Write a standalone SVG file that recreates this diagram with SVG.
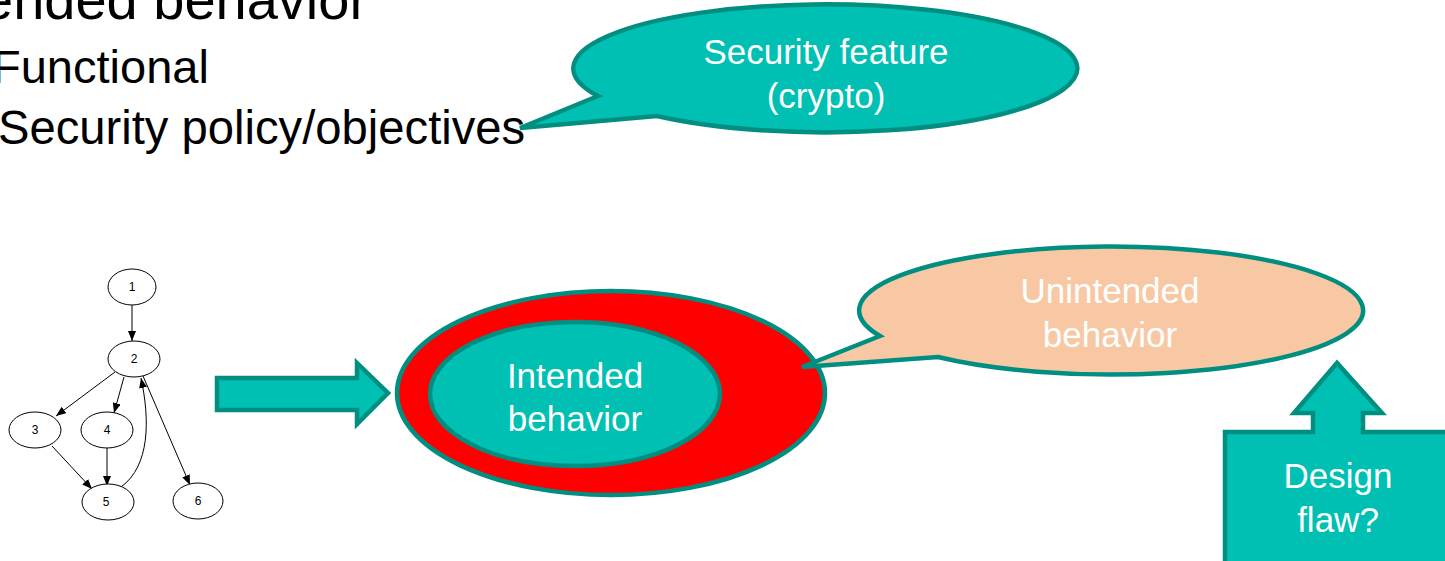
<svg xmlns="http://www.w3.org/2000/svg" width="1445" height="561" viewBox="0 0 1445 561">
  <style>
    .bullet { font-family: "Liberation Sans", Arial, sans-serif; fill: #000; }
    .lbl { font-family: "Liberation Sans", Arial, sans-serif; font-size: 35px; fill: #fff; text-anchor: middle; }
    .teal { fill: #00bfb3; stroke: #008e80; stroke-width: 4.5; stroke-linejoin: miter; }
    .peach { fill: #f8c8a5; stroke: #008e80; stroke-width: 4.5; }
    .red { fill: #ff0000; stroke: #008e80; stroke-width: 4.5; }
    .gnode { fill: #fff; stroke: #000; stroke-width: 1; }
    .gtxt { font-family: "Liberation Sans", Arial, sans-serif; font-size: 12px; fill: #000; text-anchor: middle; }
    .gedge { fill: none; stroke: #000; stroke-width: 1; marker-end: url(#ah); }
  </style>
  <defs>
    <marker id="ah" viewBox="0 0 10 8" refX="10" refY="4" markerWidth="10" markerHeight="8" markerUnits="userSpaceOnUse" orient="auto">
      <path d="M0,0 L10,4 L0,8 Z" fill="#000"/>
    </marker>
  </defs>
  <rect width="1445" height="561" fill="#fff"/>

  <!-- slide bullet text -->
  <g id="bullets">
    <text class="bullet" x="-18" y="19" font-size="56">ended behavior</text>
    <text class="bullet" x="-8" y="83" font-size="47">Functional</text>
    <text class="bullet" x="-2" y="144" font-size="47.2">Security policy/objectives</text>
  </g>

  <!-- callout: security feature -->
  <g id="security-feature">
    <path class="teal" d="M598,96 L520,128 L657,116 A252,64 0 1 0 598,96 Z"/>
    <text class="lbl" x="826" y="64">Security feature</text>
    <text class="lbl" x="826" y="108">(crypto)</text>
  </g>

  <!-- control flow graph -->
  <g id="graph">
    <g id="connectors">
      <line class="gedge" x1="132" y1="305" x2="132" y2="341"/>
      <line class="gedge" x1="115" y1="372" x2="56" y2="416"/>
      <line class="gedge" x1="124" y1="377" x2="114" y2="413"/>
      <line class="gedge" x1="143" y1="376" x2="190" y2="485"/>
      <line class="gedge" x1="52" y1="446" x2="92" y2="489"/>
      <line class="gedge" x1="107" y1="448" x2="107" y2="486"/>
      <path class="gedge" d="M121,487 C150,466 150,420 141,378"/>
    </g>
    <g id="n1"><ellipse class="gnode" cx="132" cy="287" rx="24" ry="18"/><text class="gtxt" x="132" y="291">1</text></g>
    <g id="n2"><ellipse class="gnode" cx="134" cy="359" rx="26" ry="18"/><text class="gtxt" x="134" y="363">2</text></g>
    <g id="n3"><ellipse class="gnode" cx="35" cy="430" rx="26" ry="18"/><text class="gtxt" x="35" y="434">3</text></g>
    <g id="n4"><ellipse class="gnode" cx="107" cy="430" rx="26" ry="18"/><text class="gtxt" x="107" y="434">4</text></g>
    <g id="n5"><ellipse class="gnode" cx="108" cy="502" rx="26" ry="18"/><text class="gtxt" x="106" y="506">5</text></g>
    <g id="n6"><ellipse class="gnode" cx="198" cy="501" rx="25" ry="18"/><text class="gtxt" x="198" y="505">6</text></g>
  </g>

  <!-- block arrow -->
  <g id="block-arrow">
    <path class="teal" d="M217,378 L357,378 L357,363 L388,393 L357,424 L357,410 L217,410 Z"/>
  </g>

  <!-- behaviour sets -->
  <g id="unintended-set">
    <ellipse class="red" cx="611" cy="393" rx="214" ry="102"/>
  </g>
  <g id="intended-behavior">
    <ellipse class="teal" cx="575" cy="394" rx="145" ry="72"/>
    <text class="lbl" x="575" y="388">Intended</text>
    <text class="lbl" x="575" y="431">behavior</text>
  </g>

  <!-- callout: unintended behaviour -->
  <g id="unintended-behavior">
    <path class="peach" d="M880,336 L802,367 L938,357 A252,64 0 1 0 880,336 Z"/>
    <text class="lbl" x="1110" y="303">Unintended</text>
    <text class="lbl" x="1110" y="347">behavior</text>
  </g>

  <!-- design flaw box with up arrow -->
  <g id="design-flaw">
    <path class="teal" d="M1225,432 L1313,432 L1313,413 L1294,413 L1337,363 L1382,413 L1363,413 L1363,432 L1452,432 L1452,570 L1225,570 Z"/>
    <text class="lbl" x="1338" y="488">Design</text>
    <text class="lbl" x="1338" y="532">flaw?</text>
  </g>
</svg>
